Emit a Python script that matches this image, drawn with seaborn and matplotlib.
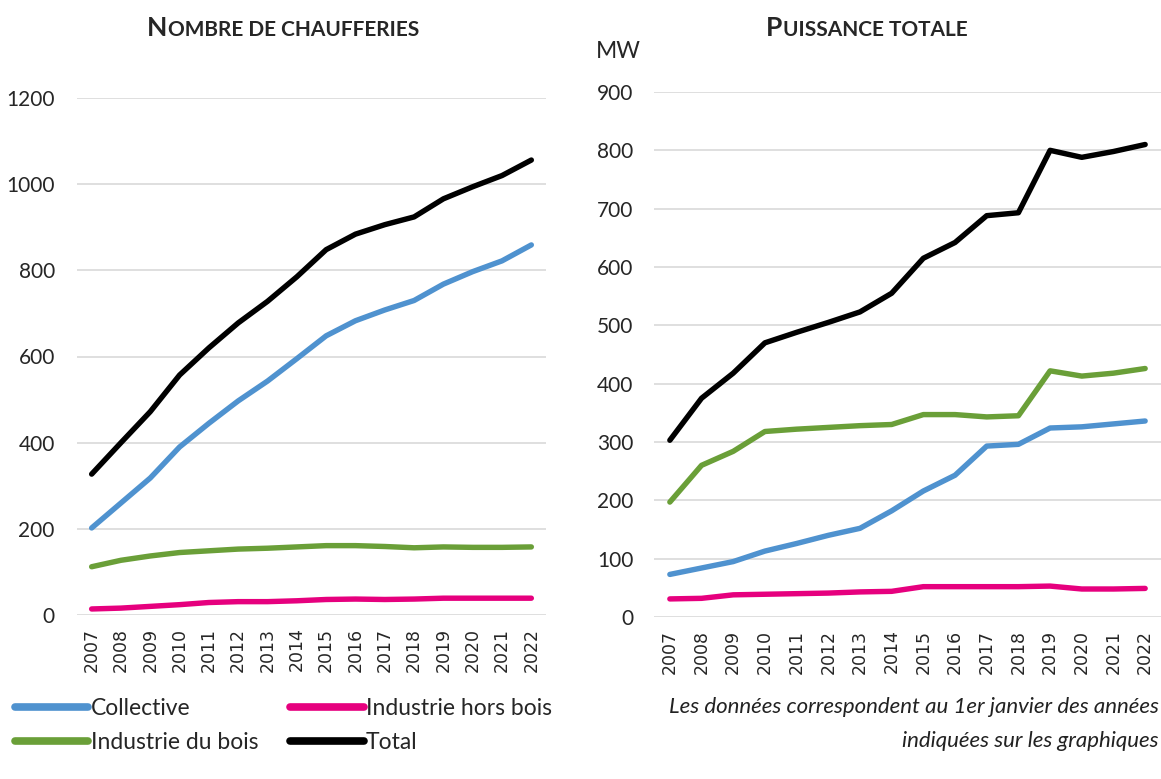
import numpy as np
import pandas as pd
import matplotlib
matplotlib.use("Agg")
import matplotlib.pyplot as plt
import seaborn as sns

years = list(range(2007, 2023))
series = ["Collective", "Industrie hors bois", "Industrie du bois", "Total"]
colors = ["#4F92CF", "#E6007E", "#6A9F38", "#000000"]

# nombre de chaufferies
nb_collective = [202, 260, 318, 390, 445, 497, 543, 595, 648, 683, 708, 730, 768, 797, 822, 859]
nb_hors_bois = [14, 16, 20, 24, 29, 31, 31, 33, 36, 37, 36, 37, 39, 39, 39, 39]
nb_bois = [112, 127, 137, 145, 149, 153, 155, 158, 161, 161, 159, 156, 158, 157, 157, 158]
nb_total = [327, 400, 472, 557, 620, 678, 728, 785, 848, 884, 906, 924, 966, 994, 1020, 1056]

# puissance totale (MW)
mw_collective = [73, 84, 95, 113, 126, 140, 152, 182, 216, 243, 293, 296, 324, 326, 331, 336]
mw_hors_bois = [31, 32, 38, 39, 40, 41, 43, 44, 52, 52, 52, 52, 53, 48, 48, 49]
mw_bois = [197, 260, 284, 318, 322, 325, 328, 330, 347, 347, 343, 345, 422, 413, 418, 426]
mw_total = [303, 375, 418, 470, 488, 505, 523, 555, 615, 642, 688, 693, 800, 788, 798, 810]


def long_df(a, b, c, d):
    frames = []
    for name, vals in zip(series, [a, b, c, d]):
        frames.append(pd.DataFrame({"annee": years, "valeur": vals, "serie": name}))
    return pd.concat(frames, ignore_index=True)


df_nb = long_df(nb_collective, nb_hors_bois, nb_bois, nb_total)
df_mw = long_df(mw_collective, mw_hors_bois, mw_bois, mw_total)

sns.set_style("white")
plt.rcParams["font.family"] = ["Lato", "DejaVu Sans"]

W, H = 1161, 779
fig = plt.figure(figsize=(W / 100, H / 100), dpi=100)


def px_axes(x0, x1, ytop, ybot):
    return fig.add_axes([x0 / W, 1 - ybot / H, (x1 - x0) / W, (ybot - ytop) / H])


ax1 = px_axes(77, 546, 98, 615)
ax2 = px_axes(654, 1161, 92, 617)

pal = dict(zip(series, colors))
for ax, df, ymax, step, pad in [(ax1, df_nb, 1200, 200, 16), (ax2, df_mw, 900, 100, 15)]:
    sns.lineplot(data=df, x="annee", y="valeur", hue="serie", palette=pal,
                 linewidth=3.9, ax=ax, legend=(ax is ax1))
    ax.set_xlim(2006.5, 2022.5)
    ax.set_ylim(0, ymax)
    ax.set_yticks(np.arange(0, ymax + 1, step))
    ax.set_xticks(years)
    ax.set_xticklabels([str(y) for y in years], rotation=90, fontsize=12.5,
                       family="DejaVu Sans")
    ax.tick_params(axis="y", length=0, pad=pad, labelsize=15)
    ax.tick_params(axis="x", length=0, pad=9)
    ax.grid(axis="y", color="#D9D9D9", linewidth=1.2)
    ax.set_axisbelow(True)
    for s in ax.spines.values():
        s.set_visible(False)
    ax.set_xlabel("")
    ax.set_ylabel("")

handles, labels = ax1.get_legend_handles_labels()
ax1.get_legend().remove()
for h in handles:
    h.set_linewidth(5.5)
order = [0, 2, 1, 3]
fig.legend([handles[i] for i in order], [labels[i] for i in order],
           ncol=2, frameon=False, fontsize=16.5, handlelength=3.2,
           handletextpad=0.1, columnspacing=1.4, labelspacing=0.55,
           borderpad=0, borderaxespad=0,
           loc="upper left", bbox_to_anchor=(15 / W, 1 - 698 / H))


def small_caps_title(x_center, y, big, rest):
    t = fig.text(0, 1 - y / H, big, fontsize=19, fontweight="bold", va="baseline")
    t2 = fig.text(0, 1 - y / H, rest, fontsize=15, fontweight="bold", va="baseline")
    fig.canvas.draw()
    r = fig.canvas.get_renderer()
    w1 = t.get_window_extent(r).width
    w2 = t2.get_window_extent(r).width
    start = x_center - (w1 + w2 + 1) / 2
    t.set_x(start / W)
    t2.set_x((start + w1 + 1) / W)


small_caps_title(283, 36, "N", "OMBRE DE CHAUFFERIES")
small_caps_title(867, 36, "P", "UISSANCE TOTALE")

fig.text(618 / W, 1 - 52 / H, "MW", fontsize=16.5, ha="center", va="center")

fig.text(1159 / W, 1 - 707 / H, "Les données correspondent au 1er janvier des années",
         fontsize=16, style="italic", ha="right", va="center", color="#222222")
fig.text(1159 / W, 1 - 741 / H, "indiquées sur les graphiques",
         fontsize=16, style="italic", ha="right", va="center", color="#222222")

fig.savefig("out.png", dpi=100)
